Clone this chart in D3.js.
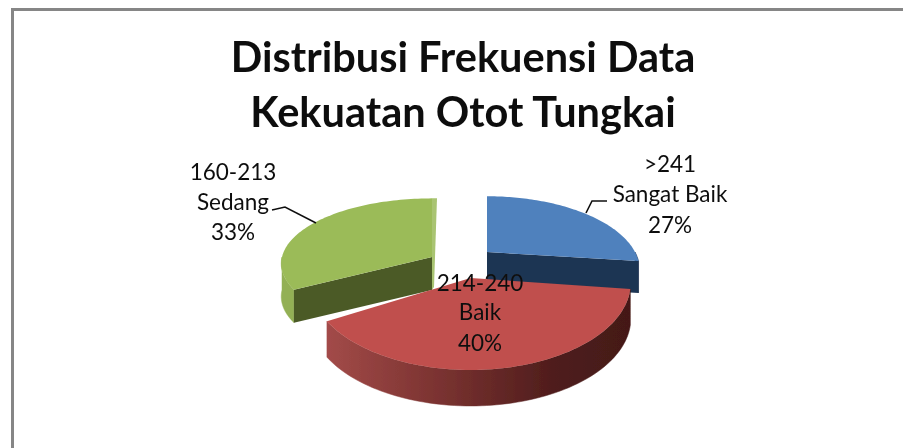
<!DOCTYPE html>
<html><head><meta charset="utf-8">
<script src="https://cdn.jsdelivr.net/npm/d3@7"></script>
<style>html,body{margin:0;padding:0;background:#fff}svg{display:block}text{font-family:Lato,sans-serif;fill:#111}</style>
</head><body><svg id="c" width="903" height="448"></svg>
<script>
const titleLines = ["Distribusi Frekuensi Data", "Kekuatan Otot Tungkai"];
const categories = ["Sangat Baik", "Baik", "Sedang"];
const ranges = [">241", "214-240", "160-213"];
const values = [27, 40, 33];

const W = 903, H = 448;
const svg = d3.select("#c");
const geom = [
  {ax:487, ay:252, R:148, tilt:0.47, k:0.248, depth:32, top:"#4f81bd", wall:"#1f3552"},
  {ax:470.6, ay:278, R:160, tilt:0.546, k:0.05, depth:36, top:"#c0504d", wall:"url(#redWall)"},
  {ax:432, ay:257, R:150, tilt:0.43, k:0.1, depth:33, top:"#9bbb59", wall:"#4b5a28", rim:"#93b054", side:"#a9c472"}
];
const labelPos = [{x:670,y:[172,202,233]},{x:480,y:[291,320,351]},{x:233,y:[180,210,240]}];

const defs = svg.append("defs");
const grad = defs.append("linearGradient").attr("id","redWall").attr("gradientUnits","userSpaceOnUse")
  .attr("x1",325).attr("x2",630).attr("y1",0).attr("y2",0);
[[0,"#a34b49"],[0.35,"#7d3432"],[0.75,"#4f1d1c"],[1,"#441918"]].forEach(d=>grad.append("stop").attr("offset",d[0]).attr("stop-color",d[1]));
defs.append("filter").attr("id","soft").attr("x","-5%").attr("y","-5%").attr("width","110%").attr("height","110%")
  .append("feGaussianBlur").attr("stdDeviation",0.4);

const root = svg.append("g").attr("filter","url(#soft)");

// frame
const frame = d3.path();
frame.moveTo(12.5,H+10); frame.lineTo(12.5,9.5); frame.lineTo(W+10,9.5);
root.append("path").attr("d",frame.toString()).attr("fill","none").attr("stroke","#868686").attr("stroke-width",3);

const arcs = d3.pie().sort(null).value(d=>d)(values);
const line = d3.line();

function project(g, th, z){
  const u = Math.sin(th), v = -Math.cos(th);
  const s = 1/(1 - g.k*v);
  return [g.ax + g.R*u*s, g.ay + g.R*g.tilt*v*s + z];
}
function rim(g, a0, a1, z){
  const n = 80;
  return d3.range(n+1).map(i=>project(g, a0 + (a1-a0)*i/n, z));
}
[0,2,1].forEach(i=>{
  const a = arcs[i], g = geom[i];
  const G = root.append("g");
  const apex = [g.ax,g.ay], apexB = [g.ax,g.ay+g.depth];
  const a0 = Math.max(a.startAngle, Math.PI/2), a1 = Math.min(a.endAngle, Math.PI*1.5);
  if (a1 > a0) {
    const pts = rim(g,a0,a1,0).concat(rim(g,a0,a1,g.depth).reverse());
    G.append("path").attr("d",line(pts)+"Z").attr("fill", g.rim || g.wall).attr("stroke", g.rim || g.wall).attr("stroke-width",0.5);
  }
  if (i === 0) {
    const e = project(g,a.endAngle,0), eB = project(g,a.endAngle,g.depth);
    G.append("path").attr("d",line([apex,e,eB,apexB])+"Z").attr("fill",g.wall);
  }
  if (i === 2) {
    const s = project(g,a.startAngle,0), sB = project(g,a.startAngle,g.depth);
    G.append("path").attr("d",line([apex,s,sB,apexB])+"Z").attr("fill",g.wall);
    // thin back cut face, seen at the slice's right edge
    const e = project(g,a.endAngle,0);
    G.append("path").attr("d",line([e,[e[0]+5,e[1]],[apexB[0]+2,apexB[1]-3],apexB])+"Z").attr("fill",g.side);
  }
  G.append("path").attr("d",line([apex].concat(rim(g,a.startAngle,a.endAngle,0)))+"Z").attr("fill",g.top);
});

// leader lines
[[[272,210],[285,207],[316,223]],[[607,201],[592,201],[586,213]]].forEach(p=>{
  root.append("path").attr("d",line(p)).attr("fill","none").attr("stroke","#111").attr("stroke-width",1.6);
});

// title
titleLines.forEach((t,i)=>{
  root.append("text").attr("x",463).attr("y",72+i*55).attr("text-anchor","middle")
    .attr("font-size",41.5).attr("font-weight",700).text(t);
});
// labels
categories.forEach((c,i)=>{
  const p = labelPos[i];
  [ranges[i], c, values[i]+"%"].forEach((t,j)=>{
    root.append("text").attr("x",p.x).attr("y",p.y[j]).attr("text-anchor","middle")
      .attr("font-size",22.5).text(t);
  });
});
</script></body></html>
